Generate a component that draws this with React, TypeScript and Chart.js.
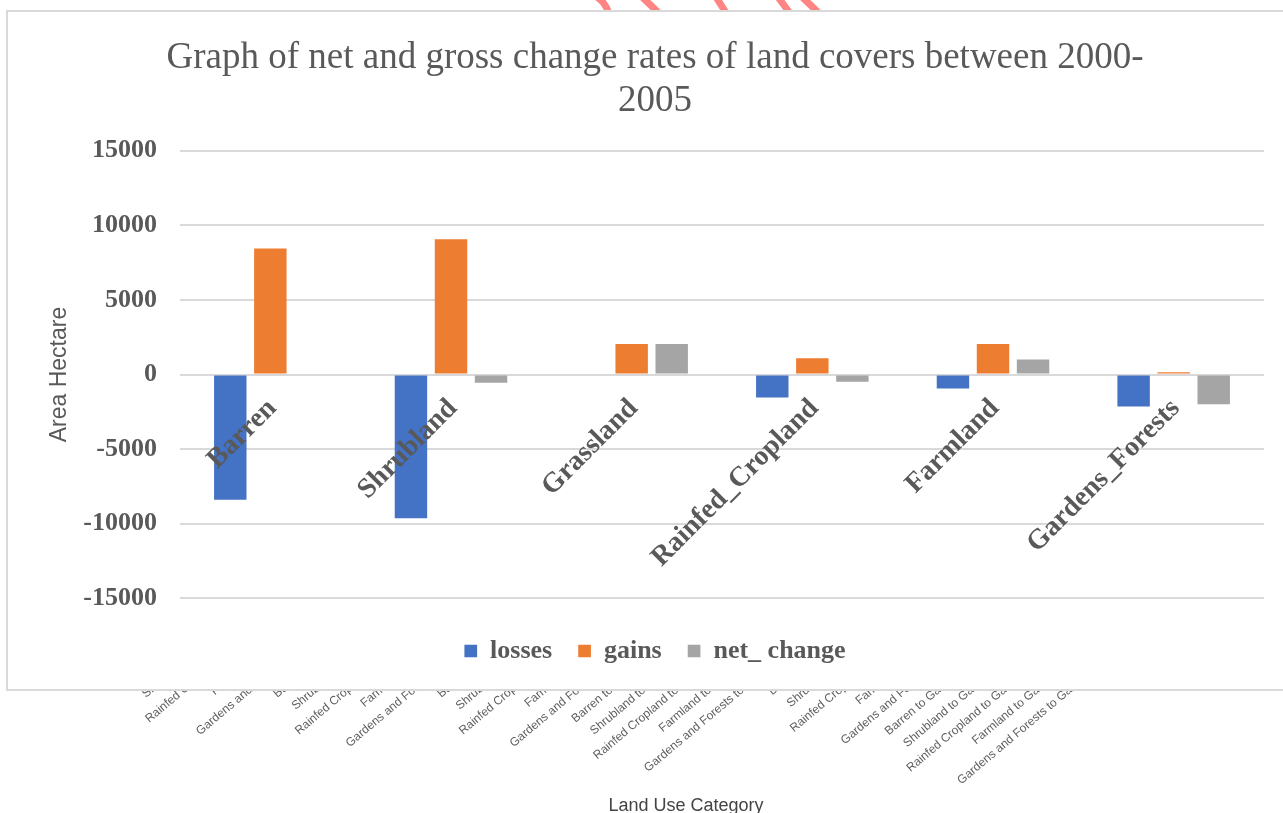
import React, { useEffect, useRef } from 'react';
import { Chart, registerables } from 'chart.js';

Chart.register(...registerables);

// ---- Data ----
const landCovers = ['Barren', 'Shrubland', 'Grassland', 'Rainfed_Cropland', 'Farmland', 'Gardens_Forests'];
const losses = [-8400, -9630, 0, -1540, -940, -2150];
const gains = [8440, 9070, 2050, 1090, 2050, 150];
const netChange = [0, -550, 2050, -480, 1010, -2000];
const seriesNames = ['losses', 'gains', 'net_ change'];
const yTicks = [-15000, -10000, -5000, 0, 5000, 10000, 15000];
const titleLines = ['Graph of net and gross change rates of land covers between 2000-', '2005'];
const yAxisTitle = 'Area Hectare';

// chart partly hidden behind the main one (only its category labels show)
const transitionSources = ['Barren', 'Shrubland', 'Rainfed Cropland', 'Farmland', 'Gardens and Forests'];
const transitionTargets = ['Barren', 'Shrubland', 'Grassland', 'Rainfed Cropland', 'Farmland', 'Gardens and Forests'];
const transitionLabels = transitionTargets.flatMap((t) => transitionSources.map((s) => `${s} to ${t}`));
const bgAxisTitle = 'Land Use Category';

const SERIF = "'Liberation Serif', 'Times New Roman', serif";
const SANS = "'Liberation Sans', Arial, sans-serif";
const GREY_TEXT = '#595959';

export default function App() {
  const mainRef = useRef<HTMLCanvasElement | null>(null);
  const bgRef = useRef<HTMLCanvasElement | null>(null);

  useEffect(() => {
    if (!mainRef.current || !bgRef.current) return;

    const bg = new Chart(bgRef.current, {
      type: 'bar',
      data: { labels: transitionLabels, datasets: [] },
      options: {
        responsive: false,
        animation: false,
        devicePixelRatio: 1,
        layout: { padding: { left: 177, right: 122, top: 0, bottom: 0 } },
        plugins: {
          legend: { display: false },
          title: { display: false },
          tooltip: { enabled: false },
        },
        scales: {
          x: {
            type: 'category',
            offset: true,
            grid: { display: false, drawTicks: false },
            border: { display: false },
            ticks: {
              autoSkip: false,
              minRotation: 40,
              maxRotation: 40,
              padding: 0,
              color: '#606060',
              font: { family: SANS, size: 12 },
            },
            afterFit: (s: any) => {
              s.height = 192;
            },
          },
          y: { display: false },
        },
      },
    } as any);

    const main = new Chart(mainRef.current, {
      type: 'bar',
      data: {
        labels: landCovers,
        datasets: [
          { label: seriesNames[0], data: losses, backgroundColor: '#4472C4' },
          { label: seriesNames[1], data: gains, backgroundColor: '#ED7D31' },
          { label: seriesNames[2], data: netChange, backgroundColor: '#A5A5A5' },
        ],
      },
      options: {
        responsive: false,
        animation: false,
        devicePixelRatio: 1,
        datasets: { bar: { categoryPercentage: 0.665, barPercentage: 0.81 } },
        layout: { padding: { left: 38, right: 0, top: 0, bottom: 15 } },
        plugins: {
          tooltip: { enabled: false },
          title: {
            display: true,
            text: titleLines,
            color: GREY_TEXT,
            font: { family: SERIF, size: 37, weight: 'normal', lineHeight: 43 / 37 },
            padding: { top: 25, bottom: 27.7 },
          },
          legend: {
            position: 'bottom',
            title: { display: true, text: '', font: { size: 11.4, lineHeight: 1.2 }, padding: 0 },
            labels: {
              boxWidth: 12.7,
              boxHeight: 12.7,
              padding: 26,
              color: GREY_TEXT,
              font: { family: SERIF, size: 26, weight: 'bold' },
            },
          },
        },
        scales: {
          x: {
            type: 'category',
            position: { y: 0 },
            offset: true,
            grid: { display: false, drawTicks: false },
            border: { display: false },
            ticks: {
              z: 1,
              autoSkip: false,
              minRotation: 45,
              maxRotation: 45,
              padding: 17.7,
              labelOffset: 2,
              color: GREY_TEXT,
              font: { family: SERIF, size: 28, weight: 'bold' },
            },
            afterFit: (s: any) => {
              s.height = 0;
            },
          },
          y: {
            min: yTicks[0],
            max: yTicks[yTicks.length - 1],
            grid: { color: '#d9d9d9', lineWidth: 2, drawTicks: false },
            border: { display: false },
            ticks: {
              stepSize: yTicks[1] - yTicks[0],
              padding: 23,
              color: GREY_TEXT,
              font: { family: SERIF, size: 26, weight: 'bold' },
              callback: (v: any) => String(v),
            },
            title: {
              display: true,
              text: yAxisTitle,
              color: GREY_TEXT,
              font: { family: SANS, size: 23 },
              padding: { top: 0, bottom: 0 },
            },
            afterFit: (s: any) => {
              s.width = 134;
            },
          },
        },
      },
    } as any);

    return () => {
      main.destroy();
      bg.destroy();
    };
  }, []);

  return (
    <div
      style={{
        position: 'fixed',
        left: 0,
        top: 0,
        width: 1283,
        height: 813,
        overflow: 'hidden',
        background: '#ffffff',
      }}
    >
      <canvas ref={bgRef} width={1283} height={813} style={{ position: 'absolute', left: 0, top: 0 }} />
      <div
        style={{
          position: 'absolute',
          left: 486,
          top: 795,
          width: 400,
          textAlign: 'center',
          fontFamily: SANS,
          fontSize: 18,
          lineHeight: '21px',
          color: '#444',
        }}
      >
        {bgAxisTitle}
      </div>
      <svg width={1283} height={24} style={{ position: 'absolute', left: 0, top: 0 }}>
        <g stroke="#ff8585" strokeWidth={7} fill="none" strokeLinecap="round">
          <path d="M597 -3 Q606 3 609 14" />
          <path d="M642 -3 L662 16" />
          <path d="M716 -3 L728 16" />
          <path d="M778 -3 L792 16" />
          <path d="M802 -3 L822 16" />
        </g>
      </svg>
      <div
        style={{
          position: 'absolute',
          left: 6,
          top: 10,
          width: 1300,
          height: 681,
          boxSizing: 'border-box',
          border: '2px solid #d9d9d9',
          background: '#ffffff',
        }}
      >
        <canvas ref={mainRef} width={1256} height={677} style={{ position: 'absolute', left: 0, top: 0 }} />
      </div>
    </div>
  );
}
